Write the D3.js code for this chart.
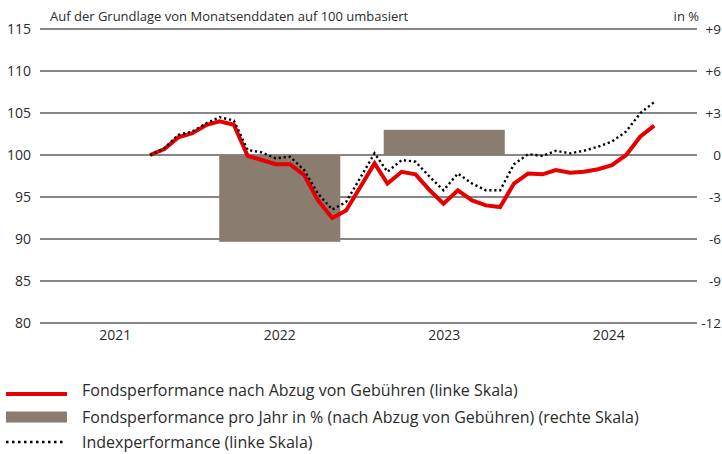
<!DOCTYPE html>
<html>
<head>
<meta charset="utf-8">
<script src="https://cdn.jsdelivr.net/npm/d3@7"></script>
<style>
  body { margin: 0; background: #fff; }
  svg text { font-family: "Open Sans", sans-serif; fill: #2b2b2b; }
</style>
</head>
<body>
<div id="chart"></div>
<script>
// month-end dates for the two lines
const months = [
  "2021-09-30","2021-10-31","2021-11-30","2021-12-31",
  "2022-01-31","2022-02-28","2022-03-31","2022-04-30","2022-05-31","2022-06-30",
  "2022-07-31","2022-08-31","2022-09-30","2022-10-31","2022-11-30","2022-12-31",
  "2023-01-31","2023-02-28","2023-03-31","2023-04-30","2023-05-31","2023-06-30",
  "2023-07-31","2023-08-31","2023-09-30","2023-10-31","2023-11-30","2023-12-31",
  "2024-01-31","2024-02-29","2024-03-31","2024-04-30","2024-05-31","2024-06-30",
  "2024-07-31","2024-08-31","2024-09-30"
];
// fund performance after fees, rebased to 100 (left scale)
const fundValues = [
  100.0, 100.7, 102.1, 102.6, 103.6, 104.0, 103.6, 99.9, 99.4, 98.9,
  98.9, 97.6, 94.6, 92.5, 93.4, 96.2, 99.0, 96.6, 98.0, 97.7,
  95.8, 94.2, 95.8, 94.6, 94.0, 93.8, 96.6, 97.8, 97.7, 98.2,
  97.9, 98.0, 98.3, 98.8, 100.0, 102.2, 103.5
];
// index performance, rebased to 100 (left scale)
const indexValues = [
  100.0, 100.8, 102.4, 102.8, 103.8, 104.5, 104.1, 100.6, 100.3, 99.6,
  99.8, 98.2, 95.4, 93.5, 94.4, 97.3, 100.2, 98.0, 99.4, 99.2,
  97.4, 95.8, 97.8, 96.6, 95.8, 95.8, 98.9, 100.1, 99.9, 100.5,
  100.2, 100.5, 101.0, 101.6, 102.8, 105.0, 106.3
];
// yearly fund performance in % (right scale)
const years = ["2021", "2022", "2023", "2024"];
const yearlyPerf = [null, -6.2, 1.8, null];

const leftTicks = [80, 85, 90, 95, 100, 105, 110, 115];
const rightTicks = [-12, -9, -6, -3, 0, 3, 6, 9];

const legendLabels = [
  "Fondsperformance nach Abzug von Gebühren (linke Skala)",
  "Fondsperformance pro Jahr in % (nach Abzug von Gebühren) (rechte Skala)",
  "Indexperformance (linke Skala)"
];

const width = 722, height = 454;
const plotLeft = 40, plotRight = 697, plotTop = 29, plotBottom = 323;

const svg = d3.select("#chart").append("svg")
  .attr("width", width)
  .attr("height", height);

const parseDate = d3.timeParse("%Y-%m-%d");
const dates = months.map(parseDate);

// scales
const yLeft = d3.scaleLinear().domain([80, 115]).range([plotBottom, plotTop]);
const yRight = d3.scaleLinear().domain([-12, 9]).range([plotBottom, plotTop]);
const xBand = d3.scaleBand().domain(years).range([33, 691])
  .paddingInner(0.264).paddingOuter(0.132);
const xTime = d3.scaleTime()
  .domain([new Date(2021, 0, 1), new Date(2025, 0, 1)])
  .range([25, 697]);

// gridlines
svg.append("g")
  .selectAll("line")
  .data(leftTicks)
  .join("line")
  .attr("x1", plotLeft)
  .attr("x2", plotRight)
  .attr("y1", d => yLeft(d))
  .attr("y2", d => yLeft(d))
  .attr("stroke", "#111")
  .attr("stroke-width", 1.2);

// left axis labels
svg.append("g")
  .selectAll("text")
  .data(leftTicks)
  .join("text")
  .attr("x", 31)
  .attr("y", d => yLeft(d) + 5)
  .attr("text-anchor", "end")
  .style("font-size", "14px")
  .text(d => d);

// right axis labels
svg.append("g")
  .selectAll("text")
  .data(rightTicks)
  .join("text")
  .attr("x", 721)
  .attr("y", d => yRight(d) + 5)
  .attr("text-anchor", "end")
  .style("font-size", "13.5px")
  .text(d => d > 0 ? "+" + d : d);

// year labels
svg.append("g")
  .selectAll("text")
  .data(years)
  .join("text")
  .attr("x", d => xBand(d) + xBand.bandwidth() / 2)
  .attr("y", 340)
  .attr("text-anchor", "middle")
  .style("font-size", "14px")
  .text(d => d);

// titles
svg.append("text")
  .attr("x", 50)
  .attr("y", 20.5)
  .style("font-size", "13px")
  .text("Auf der Grundlage von Monatsenddaten auf 100 umbasiert");

svg.append("text")
  .attr("x", 699)
  .attr("y", 20.5)
  .attr("text-anchor", "end")
  .style("font-size", "13px")
  .text("in %");

// yearly bars
const barData = years.map((y, i) => ({ year: y, value: yearlyPerf[i] }))
  .filter(d => d.value !== null);

svg.append("g")
  .selectAll("rect")
  .data(barData)
  .join("rect")
  .attr("x", d => xBand(d.year))
  .attr("width", xBand.bandwidth())
  .attr("y", d => yRight(Math.max(0, d.value)))
  .attr("height", d => Math.abs(yRight(d.value) - yRight(0)))
  .attr("fill", "#8a7c6e");

// lines
const line = d3.line()
  .x((d, i) => xTime(dates[i]))
  .y(d => yLeft(d));

svg.append("path")
  .datum(fundValues)
  .attr("d", line)
  .attr("fill", "none")
  .attr("stroke", "#e60000")
  .attr("stroke-width", 4)
  .attr("stroke-linejoin", "miter");

svg.append("path")
  .datum(indexValues)
  .attr("d", line)
  .attr("fill", "none")
  .attr("stroke", "#000")
  .attr("stroke-width", 2.4)
  .attr("stroke-dasharray", "2.2,2.8");

// legend
const legend = svg.append("g");
const legendY = [394, 417, 442];
const textY = [396, 422.5, 448];

legend.append("line")
  .attr("x1", 6).attr("x2", 67)
  .attr("y1", legendY[0]).attr("y2", legendY[0])
  .attr("stroke", "#e60000")
  .attr("stroke-width", 4);

legend.append("rect")
  .attr("x", 6).attr("y", legendY[1] - 5.5)
  .attr("width", 61).attr("height", 11)
  .attr("fill", "#8a7c6e");

legend.append("line")
  .attr("x1", 6).attr("x2", 63)
  .attr("y1", legendY[2]).attr("y2", legendY[2])
  .attr("stroke", "#000")
  .attr("stroke-width", 2.5)
  .attr("stroke-dasharray", "2.5,3.5");

legend.selectAll("text")
  .data(legendLabels)
  .join("text")
  .attr("x", 82)
  .attr("y", (d, i) => textY[i])
  .style("font-size", "16px")
  .text(d => d);
</script>
</body>
</html>
